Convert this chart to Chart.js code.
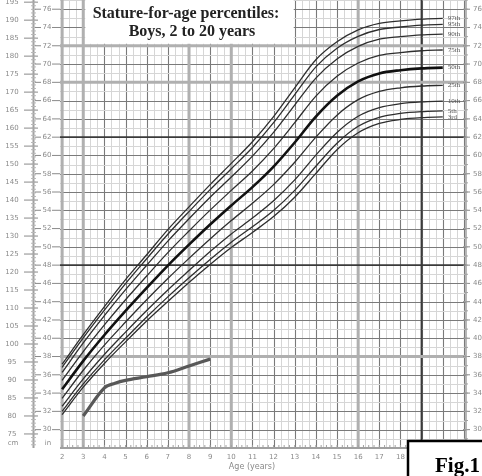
<!DOCTYPE html>
<html>
<head>
<meta charset="utf-8">
<script src="https://cdn.jsdelivr.net/npm/chart.js@4"></script>
<style>
  html, body { margin: 0; padding: 0; background: #fff; }
  #wrap { width: 482px; height: 476px; }
</style>
</head>
<body>
<div id="wrap"><canvas id="stature-chart" width="482" height="476"></canvas></div>
<script>
// stature (cm) by age (years)
const ages = [2, 3, 4, 5, 6, 7, 8, 9, 10, 11, 12, 13, 14, 15, 16, 17, 18, 19, 20];
const p3  = [80.4, 88.0, 94.6, 100.6, 106.4, 111.8, 117.1, 122.1, 126.8, 131.0, 135.4, 140.8, 147.4, 154.0, 158.7, 161.3, 162.4, 162.9, 163.1];
const p5  = [81.3, 88.9, 95.6, 101.6, 107.5, 113.1, 118.4, 123.5, 128.3, 132.6, 137.1, 142.7, 149.4, 155.8, 160.5, 163.0, 164.1, 164.6, 164.8];
const p10 = [82.7, 90.3, 97.1, 103.3, 109.3, 115.0, 120.4, 125.7, 130.6, 135.0, 139.8, 145.6, 152.5, 158.8, 163.3, 165.7, 166.8, 167.3, 167.5];
const p25 = [84.9, 92.7, 99.7, 106.1, 112.3, 118.2, 123.8, 129.2, 134.3, 139.1, 144.3, 150.5, 157.5, 163.6, 167.9, 170.2, 171.2, 171.7, 171.9];
const p50 = [87.4, 95.3, 102.5, 109.2, 115.6, 121.8, 127.6, 133.2, 138.5, 143.6, 149.3, 156.0, 163.2, 169.0, 173.0, 175.2, 176.1, 176.6, 176.8];
const p75 = [89.9, 97.9, 105.3, 112.3, 118.9, 125.4, 131.4, 137.2, 142.7, 148.1, 154.3, 161.5, 168.9, 174.4, 178.1, 180.2, 181.0, 181.5, 181.7];
const p90 = [92.1, 100.3, 107.9, 115.1, 121.9, 128.6, 134.8, 140.8, 146.4, 152.2, 158.8, 166.4, 173.9, 179.2, 182.7, 184.7, 185.4, 185.9, 186.1];
const p95 = [93.5, 101.7, 109.4, 116.8, 123.7, 130.5, 136.8, 142.9, 148.7, 154.6, 161.5, 169.3, 177.0, 182.2, 185.5, 187.4, 188.1, 188.6, 188.8];
const p97 = [94.4, 102.6, 110.4, 117.9, 124.8, 131.8, 138.1, 144.3, 150.2, 156.2, 163.2, 171.2, 179.0, 184.0, 187.3, 189.1, 189.8, 190.3, 190.5];
const percentileNames = ['3rd', '5th', '10th', '25th', '50th', '75th', '90th', '95th', '97th'];

// the boy's own measurements
const patientAges = [3, 4, 4.5, 5, 6, 7, 8, 9];
const patientHeight = [80.0, 87.8, 89.1, 89.9, 90.9, 92.0, 93.9, 95.8];

// axis labels
const ageTicks = [2, 3, 4, 5, 6, 7, 8, 9, 10, 11, 12, 13, 14, 15, 16, 17, 18, 19, 20];
const cmTicks = [75, 80, 85, 90, 95, 100, 105, 110, 115, 120, 125, 130, 135, 140, 145, 150, 155, 160, 165, 170, 175, 180, 185, 190, 195];
const inchTicks = [30, 32, 34, 36, 38, 40, 42, 44, 46, 48, 50, 52, 54, 56, 58, 60, 62, 64, 66, 68, 70, 72, 74, 76];

const percentiles = [p3, p5, p10, p25, p50, p75, p90, p95, p97];
const SERIF = '"Liberation Serif", "DejaVu Serif", serif';
const SANS = '"DejaVu Sans", sans-serif';

const growthGrid = {
  id: 'growthGrid',
  beforeDatasetsDraw(chart) {
    const { ctx, chartArea: a, scales: { x, y } } = chart;
    const line = (x1, y1, x2, y2, color, w) => {
      ctx.strokeStyle = color;
      ctx.lineWidth = w;
      ctx.beginPath();
      ctx.moveTo(x1, y1);
      ctx.lineTo(x2, y2);
      ctx.stroke();
    };
    ctx.save();

    // vertical lines: every 4 months, darker each year
    for (let k = 0; k <= 57; k++) {
      const age = 2 + k / 3;
      const px = Math.round(x.getPixelForValue(age)) + 0.5;
      if (k % 3 !== 0) line(px, a.top, px, a.bottom, '#d6d6d6', 1);
    }
    for (let age = 2; age <= 21; age++) {
      const px = Math.round(x.getPixelForValue(age)) + 0.5;
      line(px, a.top, px, a.bottom, '#7a7a7a', 1.1);
    }
    // horizontal lines: every inch, darker on even inches
    for (let inch = 28; inch <= 77; inch++) {
      const py = Math.round(y.getPixelForValue(inch * 2.54)) + 0.5;
      if (inch % 2) line(a.left, py, a.right, py, '#d6d6d6', 1);
    }
    for (let inch = 28; inch <= 77; inch += 2) {
      const py = Math.round(y.getPixelForValue(inch * 2.54)) + 0.5;
      line(a.left, py, a.right, py, '#7a7a7a', 1.1);
    }
    // heavier scan lines
    [2, 3, 8, 10, 16].forEach(age => {
      const px = x.getPixelForValue(age);
      line(px, a.top, px, a.bottom, '#b0b0b0', 3);
    });
    line(x.getPixelForValue(19), a.top, x.getPixelForValue(19), a.bottom, '#3a3a3a', 2);
    [72, 68, 38].forEach(inch => {
      const py = y.getPixelForValue(inch * 2.54);
      line(a.left, py, a.right, py, '#b0b0b0', 3);
    });
    [62, 48].forEach(inch => {
      const py = y.getPixelForValue(inch * 2.54);
      line(a.left, py, a.right, py, '#3a3a3a', 1.6);
    });

    // title box
    const bx1 = x.getPixelForValue(3) + 2, bx2 = x.getPixelForValue(13) - 1;
    const by2 = y.getPixelForValue(72 * 2.54) - 2;
    ctx.fillStyle = '#fff';
    ctx.fillRect(bx1, 0, bx2 - bx1, by2);
    ctx.fillStyle = '#222';
    ctx.font = 'bold 16px ' + SERIF;
    ctx.textAlign = 'center';
    ctx.textBaseline = 'alphabetic';
    ctx.fillText('Stature-for-age percentiles:', 186, 18);
    ctx.fillText('Boys, 2 to 20 years', 192, 36);

    // left axes
    line(33.5, 0, 33.5, a.bottom, '#a0a0a0', 2);
    line(a.left, a.bottom, a.right, a.bottom, '#a0a0a0', 2);
    line(a.right, 0, a.right, a.bottom, '#a0a0a0', 1.5);
    ctx.font = '7px ' + SANS;
    ctx.fillStyle = '#8a8a8a';
    ctx.textBaseline = 'middle';
    cmTicks.forEach(cm => {
      const py = y.getPixelForValue(cm);
      line(24, py, 38, py, '#8a8a8a', 1);
      ctx.textAlign = 'center';
      ctx.fillText(String(cm), 12, py);
    });
    for (let cm = 72; cm <= 195; cm++) {
      const py = y.getPixelForValue(cm);
      line(31, py, 36, py, '#b8b8b8', 1);
    }
    inchTicks.forEach(inch => {
      const py = y.getPixelForValue(inch * 2.54);
      line(35, py, 41, py, '#8a8a8a', 1);
      line(52, py, 60, py, '#8a8a8a', 1);
      ctx.textAlign = 'center';
      ctx.fillText(String(inch), 47, py);
      line(a.right - 3, py, a.right + 4, py, '#8a8a8a', 1);
      ctx.textAlign = 'left';
      ctx.fillText(String(inch), a.right + 7, py);
    });
    for (let inch = 28; inch <= 77; inch++) {
      const py = y.getPixelForValue(inch * 2.54);
      line(a.right - 2, py, a.right + 2, py, '#a0a0a0', 1);
    }
    ctx.textAlign = 'center';
    ctx.fillText('cm', 13, 443);
    ctx.fillText('in', 48, 443);

    // bottom axis
    for (let k = 0; k <= 76; k++) {
      const px = x.getPixelForValue(2 + k / 4);
      line(px, a.bottom - 3, px, a.bottom, '#a0a0a0', 1);
    }
    ageTicks.forEach(age => {
      ctx.fillText(String(age), x.getPixelForValue(age), a.bottom + 9);
    });
    ctx.font = '8px ' + SANS;
    ctx.fillText('Age (years)', 252, a.bottom + 19);
    ctx.restore();
  },
  afterDatasetsDraw(chart) {
    const { ctx, scales: { x, y } } = chart;
    ctx.save();
    ctx.font = '7px ' + SERIF;
    ctx.fillStyle = '#555';
    ctx.textAlign = 'left';
    ctx.textBaseline = 'middle';
    percentiles.forEach((vals, i) => {
      ctx.fillText(percentileNames[i], x.getPixelForValue(20) + 5, y.getPixelForValue(vals[vals.length - 1]));
    });
    // figure caption box
    ctx.fillStyle = '#fff';
    ctx.fillRect(408, 441, 80, 40);
    ctx.strokeStyle = '#000';
    ctx.lineWidth = 2.5;
    ctx.strokeRect(408, 441, 80, 40);
    ctx.fillStyle = '#000';
    ctx.font = 'bold 21px ' + SERIF;
    ctx.textBaseline = 'alphabetic';
    ctx.fillText('Fig.1', 435, 472);
    ctx.restore();
  }
};

const toPoints = vals => vals.map((v, i) => ({ x: ages[i], y: v }));

const datasets = percentiles.map((vals, i) => ({
  label: percentileNames[i],
  data: toPoints(vals),
  borderColor: i === 4 ? '#111' : '#2e2e2e',
  borderWidth: i === 4 ? 2.6 : 1.3,
  pointRadius: 0,
  cubicInterpolationMode: 'monotone',
  fill: false,
}));
datasets.push({
  label: 'Patient',
  data: patientAges.map((a, i) => ({ x: a, y: patientHeight[i] })),
  borderColor: '#585858',
  borderWidth: 3.2,
  pointRadius: 0,
  tension: 0.35,
  fill: false,
});

new Chart(document.getElementById('stature-chart'), {
  type: 'line',
  data: { datasets },
  options: {
    responsive: false,
    devicePixelRatio: 1,
    animation: false,
    layout: { padding: { left: 60, right: 16, top: 0, bottom: 28 } },
    plugins: { legend: { display: false }, tooltip: { enabled: false } },
    scales: {
      x: { type: 'linear', min: 1.9, max: 21.1, display: false },
      y: { type: 'linear', min: 71.1, max: 195.6, display: false },
    },
  },
  plugins: [growthGrid],
});
</script>
</body>
</html>
